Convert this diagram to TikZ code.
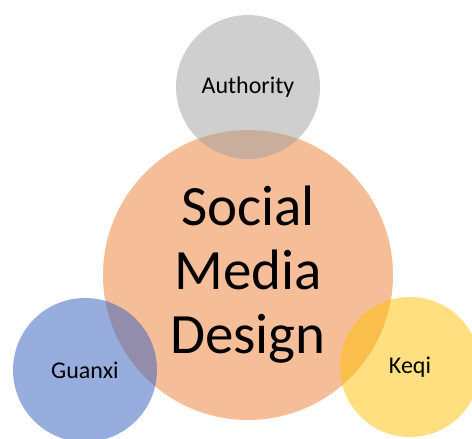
\documentclass[tikz,border=0pt]{standalone}
\usepackage{fontspec}
\setmainfont{Carlito}
\usepackage{tikz}
\usetikzlibrary{positioning}

\definecolor{smdorange}{RGB}{237,125,49}
\definecolor{authgray}{RGB}{160,160,160}
\definecolor{guanxiblue}{RGB}{45,92,190}
\definecolor{keqiyellow}{RGB}{255,192,0}

\tikzset{
    venn/.style={circle, inner sep=0pt, align=center, fill opacity=0.5, text opacity=1},
    smalllabel/.style={font=\fontsize{24}{27}\selectfont}
}

\begin{document}
\begin{tikzpicture}[x=1pt, y=-1pt, node distance=190pt]
    \useasboundingbox (0,0) rectangle (472,439);

    % Main circle
    \node (smd) [venn, fill=smdorange, minimum size=290pt, font=\fontsize{57}{64}\selectfont] at (248,275) {Social\\Media\\Design};

    % Outer circles around the main one
    \node (authority) [above of=smd, venn, smalllabel, fill=authgray, minimum size=144pt, yshift=-2pt] {Authority};
    \node (guanxi) [below of=smd, venn, smalllabel, fill=guanxiblue, minimum size=144pt, xshift=-163pt, yshift=95pt] {Guanxi};
    \node (keqi) [below of=smd, venn, smalllabel, fill=keqiyellow, minimum size=140pt, xshift=162pt, yshift=98pt] {Keqi};

\end{tikzpicture}
\end{document}
